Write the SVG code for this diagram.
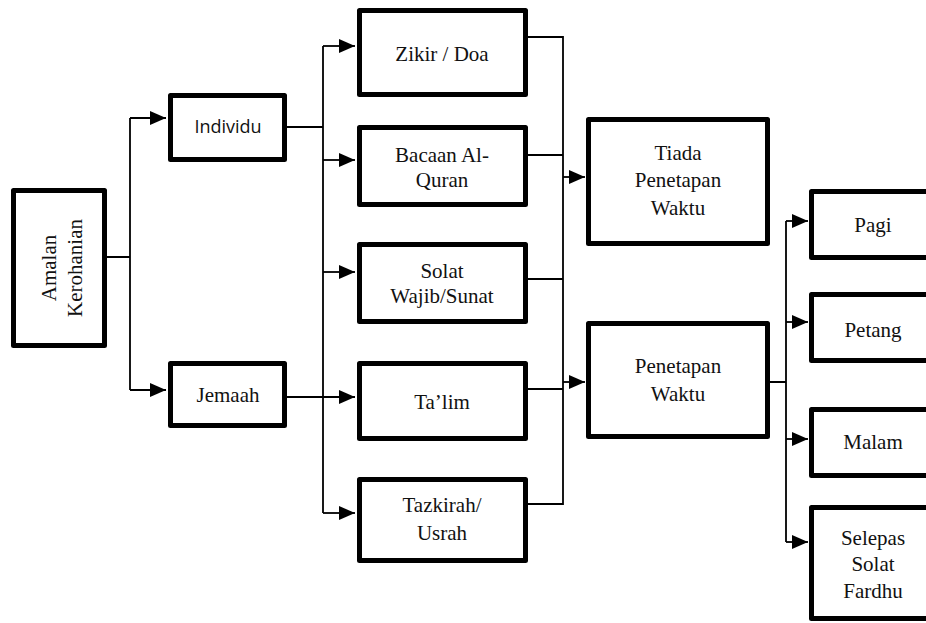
<svg xmlns="http://www.w3.org/2000/svg" width="926" height="623" viewBox="0 0 926 623">
<style>
.box{fill:#fff;stroke:#000;stroke-width:5;stroke-linejoin:round}
.t{font-family:'Liberation Serif','Times New Roman','DejaVu Serif',serif;font-size:21px;fill:#111;text-anchor:middle}
.s{font-family:'Open Sans','Liberation Sans',sans-serif;font-size:18px;fill:#111;text-anchor:middle}
.c{fill:none;stroke:#000;stroke-width:1.8}
.a{marker-end:url(#arr)}
</style>
<defs>
<marker id="arr" viewBox="0 0 16 14" refX="16" refY="7" markerWidth="16" markerHeight="14" markerUnits="userSpaceOnUse" orient="auto">
<path d="M0,0 L16,7 L0,14 Z" fill="#000"/>
</marker>
</defs>
<rect width="926" height="623" fill="#fff"/>
<g id="connectors">
<path class="c" d="M107,257 H130 M130,118 V390"/>
<path class="c a" d="M130,118 H166"/>
<path class="c a" d="M130,390 H166"/>
<path class="c" d="M287,127 H323 M323,46 V513"/>
<path class="c a" d="M287,397 H355"/>
<path class="c a" d="M323,46 H355"/>
<path class="c a" d="M323,160 H355"/>
<path class="c a" d="M323,272 H355"/>
<path class="c a" d="M323,513 H355"/>
<path class="c" d="M528,37 H563 M528,155 H563 M528,279 H563 M528,389 H563 M528,504 H563 M563,36 V505"/>
<path class="c a" d="M563,177 H585"/>
<path class="c a" d="M563,382 H585"/>
<path class="c" d="M770,382 H786 M786,221 V542"/>
<path class="c a" d="M786,221 H808"/>
<path class="c a" d="M786,322 H808"/>
<path class="c a" d="M786,439 H808"/>
<path class="c a" d="M786,542 H808"/>
</g>
<g id="amalan">
<rect class="box" x="13.5" y="190.5" width="91" height="155"/>
<text class="t" font-family="Liberation Serif, serif" transform="translate(56,268) rotate(-90)">Amalan</text>
<text class="t" font-family="Liberation Serif, serif" transform="translate(82,268) rotate(-90)">Kerohanian</text>
</g>
<g id="individu">
<rect class="box" x="170.5" y="95.5" width="114" height="64"/>
<text class="s" x="228" y="133">Individu</text>
</g>
<g id="jemaah">
<rect class="box" x="170.5" y="363.5" width="114" height="62"/>
<text class="t" x="228" y="402">Jemaah</text>
</g>
<g id="zikir">
<rect class="box" x="359.5" y="10.5" width="166" height="84"/>
<text class="t" x="442" y="61">Zikir / Doa</text>
</g>
<g id="bacaan">
<rect class="box" x="359.5" y="127.5" width="166" height="77"/>
<text class="t" x="442" y="162">Bacaan Al-</text>
<text class="t" x="442" y="187">Quran</text>
</g>
<g id="solat">
<rect class="box" x="359.5" y="244.5" width="166" height="77"/>
<text class="t" x="442" y="278">Solat</text>
<text class="t" x="442" y="303">Wajib/Sunat</text>
</g>
<g id="talim">
<rect class="box" x="359.5" y="363.5" width="166" height="75"/>
<text class="t" x="442" y="409">Ta’lim</text>
</g>
<g id="tazkirah">
<rect class="box" x="359.5" y="479.5" width="166" height="81"/>
<text class="t" x="442" y="512">Tazkirah/</text>
<text class="t" x="442" y="540">Usrah</text>
</g>
<g id="tiada">
<rect class="box" x="588.5" y="119.5" width="179" height="124"/>
<text class="t" x="678" y="160">Tiada</text>
<text class="t" x="678" y="187">Penetapan</text>
<text class="t" x="678" y="215">Waktu</text>
</g>
<g id="penetapan">
<rect class="box" x="588.5" y="323.5" width="179" height="113"/>
<text class="t" x="678" y="373">Penetapan</text>
<text class="t" x="678" y="401">Waktu</text>
</g>
<g id="pagi">
<rect class="box" x="811.5" y="191.5" width="124" height="66"/>
<text class="t" x="873" y="232">Pagi</text>
</g>
<g id="petang">
<rect class="box" x="811.5" y="294.5" width="124" height="66"/>
<text class="t" x="873" y="337">Petang</text>
</g>
<g id="malam">
<rect class="box" x="811.5" y="409.5" width="124" height="66"/>
<text class="t" x="873" y="449">Malam</text>
</g>
<g id="selepas">
<rect class="box" x="811.5" y="507.5" width="124" height="111"/>
<text class="t" x="873" y="545">Selepas</text>
<text class="t" x="873" y="571">Solat</text>
<text class="t" x="873" y="598">Fardhu</text>
</g>
</svg>
